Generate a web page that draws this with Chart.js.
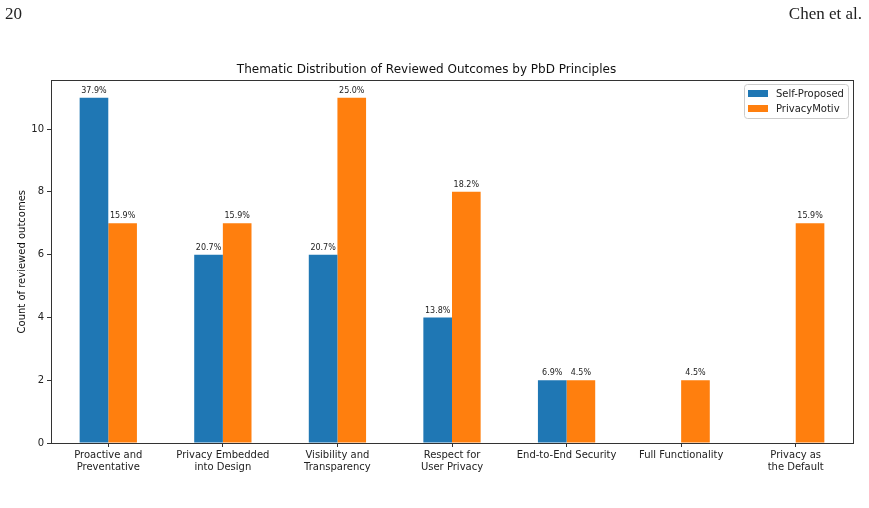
<!DOCTYPE html>
<html lang="en">
<head>
    <meta charset="UTF-8">
    <title>PbD Principles</title>
    <script src="https://cdn.jsdelivr.net/npm/chart.js"></script>
    <style>
        body { margin: 0; background: #fff; }
        #wrap { position: relative; width: 869px; height: 508px; }
        .hdr { position: absolute; top: 4px; font-family: "Liberation Serif", serif; font-size: 17px; color: #222; }
        #pg { left: 5px; }
        #au { right: 7px; }
    </style>
</head>
<body>
<div id="wrap">
    <div class="hdr" id="pg">20</div>
    <div class="hdr" id="au">Chen et al.</div>
    <canvas id="myChart" width="869" height="508"></canvas>
</div>
<script>
    // data
    const principles = [
        ['Proactive and', 'Preventative'],
        ['Privacy Embedded', 'into Design'],
        ['Visibility and', 'Transparency'],
        ['Respect for', 'User Privacy'],
        'End-to-End Security',
        'Full Functionality',
        ['Privacy as', 'the Default']
    ];
    const selfProposed = [11, 6, 6, 4, 2, 0, 0];
    const privacyMotiv = [7, 7, 11, 8, 2, 2, 7];
    const selfPct = ['37.9%', '20.7%', '20.7%', '13.8%', '6.9%', '', ''];
    const motivPct = ['15.9%', '15.9%', '25.0%', '18.2%', '4.5%', '4.5%', '15.9%'];
    const yTicks = [0, 2, 4, 6, 8, 10];

    const FONT = 'DejaVu Sans';

    // percent labels above bars
    const barLabels = {
        id: 'barLabels',
        afterDatasetsDraw(chart) {
            const ctx = chart.ctx;
            const pcts = [selfPct, motivPct];
            ctx.save();
            ctx.font = '8px "' + FONT + '"';
            ctx.fillStyle = '#222';
            ctx.textAlign = 'center';
            ctx.textBaseline = 'bottom';
            chart.data.datasets.forEach((ds, i) => {
                chart.getDatasetMeta(i).data.forEach((bar, j) => {
                    if (!ds.data[j] || !pcts[i][j]) return;
                    ctx.fillText(pcts[i][j], bar.x, bar.y - 3);
                });
            });
            ctx.restore();
        }
    };

    // box around plot + legend inside
    const frame = {
        id: 'frame',
        afterDraw(chart) {
            const ctx = chart.ctx;
            const a = chart.chartArea;
            ctx.save();
            ctx.strokeStyle = '#333';
            ctx.lineWidth = 1;
            ctx.strokeRect(Math.round(a.left) + 0.5, Math.round(a.top) + 0.5,
                Math.round(a.right - a.left), Math.round(a.bottom - a.top));

            // legend
            const w = 104, h = 34;
            const x = Math.round(a.right) - 5 - w, y = Math.round(a.top) + 4;
            ctx.strokeStyle = '#ccc';
            ctx.fillStyle = 'rgba(255,255,255,0.8)';
            ctx.beginPath();
            ctx.roundRect(x + 0.5, y + 0.5, w, h, 3);
            ctx.fill();
            ctx.stroke();
            ctx.font = '10px "' + FONT + '"';
            ctx.textBaseline = 'middle';
            chart.data.datasets.forEach((ds, i) => {
                const cy = y + 9 + i * 15;
                ctx.fillStyle = ds.backgroundColor;
                ctx.fillRect(x + 4, cy - 3, 20, 7);
                ctx.fillStyle = '#222';
                ctx.fillText(ds.label, x + 32, cy + 1);
            });
            ctx.restore();
        }
    };

    const ctx = document.getElementById('myChart').getContext('2d');
    new Chart(ctx, {
        type: 'bar',
        data: {
            labels: principles,
            datasets: [
                { label: 'Self-Proposed', data: selfProposed, backgroundColor: '#1f77b4' },
                { label: 'PrivacyMotiv', data: privacyMotiv, backgroundColor: '#ff7f0e' }
            ]
        },
        options: {
            responsive: false,
            animation: false,
            events: [],
            datasets: { bar: { categoryPercentage: 0.5, barPercentage: 1.0 } },
            layout: { padding: { top: 0, right: 16, bottom: 0, left: 0 } },
            plugins: {
                legend: { display: false },
                tooltip: { enabled: false },
                title: {
                    display: true,
                    text: 'Thematic Distribution of Reviewed Outcomes by PbD Principles',
                    color: '#111',
                    font: { family: FONT, size: 12, weight: 'normal' },
                    padding: { top: 63, bottom: 3 }
                }
            },
            scales: {
                x: {
                    afterFit: s => { s.height = 65; },
                    border: { display: true, color: '#333' },
                    grid: { display: true, drawOnChartArea: false, offset: false, tickLength: 4, color: '#333' },
                    ticks: {
                        color: '#222', padding: 2,
                        maxRotation: 0, autoSkip: false,
                        font: { family: FONT, size: 10 }
                    }
                },
                y: {
                    min: 0, max: 11.55,
                    afterFit: s => { s.width = 51; },
                    afterBuildTicks: s => { s.ticks = yTicks.map(v => ({ value: v })); },
                    border: { display: true, color: '#333' },
                    grid: { display: true, drawOnChartArea: false, tickLength: 4, color: '#333' },
                    ticks: { color: '#222', padding: 3, font: { family: FONT, size: 10 } },
                    title: {
                        display: true, text: 'Count of reviewed outcomes',
                        color: '#111', font: { family: FONT, size: 10 }, padding: { top: 16, bottom: 0 }
                    }
                }
            }
        },
        plugins: [barLabels, frame]
    });
</script>
</body>
</html>
